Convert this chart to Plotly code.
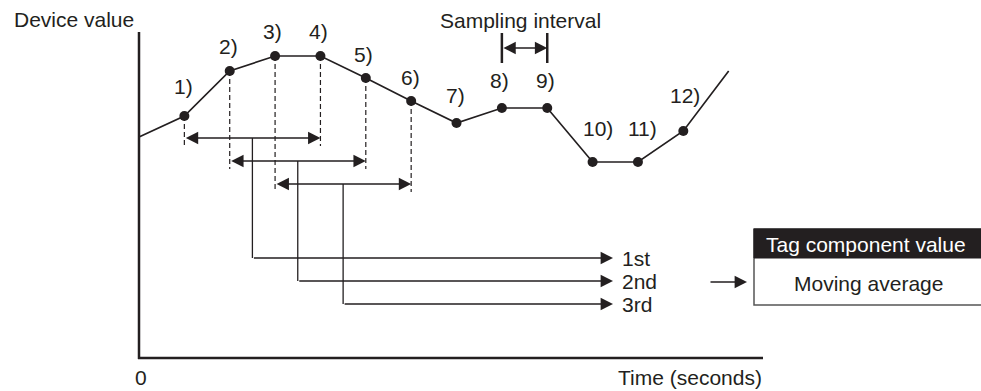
import plotly.graph_objects as go

W, H = 981, 391
INK = "#231f20"
FONT = "Liberation Sans, Arial, sans-serif"
FS = 21

# device value sampled once per sampling interval (arbitrary units)
times = [0, 1, 2, 3, 4, 5, 6, 7, 8, 9, 10, 11, 12, 13]
values = [22.1, 24.2, 28.7, 30.2, 30.2, 28.0, 25.7, 23.5, 25.0, 25.0, 19.6, 19.6, 22.7, 28.7]
sample_labels = ["1)", "2)", "3)", "4)", "5)", "6)", "7)", "8)", "9)", "10)", "11)", "12)"]

# moving average windows (sample numbers) and their results
windows = [[1, 2, 3, 4], [2, 3, 4, 5], [3, 4, 5, 6]]
result_labels = ["1st", "2nd", "3rd"]

# pixel -> data helpers for the layout decorations
X0, DX = 139, 45.36
Y0, DY = 358, 10.0


def dx(p):
    return (p - X0) / DX


def dy(p):
    return (Y0 - p) / DY


ARROW = dict(showarrow=True, text="", axref="x", ayref="y", arrowhead=2, arrowsize=1.9,
             arrowwidth=1.3, arrowcolor=INK)
BOTH = dict(arrowside="end+start", startarrowhead=2, startarrowsize=1.9)

fig = go.Figure()
ann = []
shapes = []

# axes
shapes.append(dict(type="line", x0=dx(139), x1=dx(139), y0=dy(32), y1=dy(359),
                   line=dict(color=INK, width=2.5)))
shapes.append(dict(type="line", x0=dx(138), x1=dx(763), y0=dy(358), y1=dy(358),
                   line=dict(color=INK, width=2.5)))

# window brackets, dashed guides, result lines
bracket_px = [138, 161, 184]
result_px = [258, 281, 304]
for i, win in enumerate(windows):
    lvl = dy(bracket_px[i])
    out = dy(result_px[i])
    for k in (win[0], win[-1]):
        fig.add_trace(go.Scatter(x=[times[k], times[k]], y=[values[k], dy(bracket_px[i] + 8)],
                                 mode="lines", line=dict(color=INK, width=1.2, dash="5px,3px"),
                                 hoverinfo="skip", showlegend=False))
    ann.append(dict(x=times[win[-1]], y=lvl, ax=times[win[0]], ay=lvl, **ARROW, **BOTH))
    center = sum(times[k] for k in win) / len(win)
    fig.add_trace(go.Scatter(x=[center, center], y=[lvl, out], mode="lines",
                             line=dict(color=INK, width=1.3), hoverinfo="skip", showlegend=False))
    ann.append(dict(x=dx(613), y=out, ax=center, ay=out, **ARROW))
    ann.append(dict(x=dx(620), y=out, text=result_labels[i], showarrow=False, xanchor="left",
                    font=dict(size=FS, color=INK)))

# device value line and samples
fig.add_trace(go.Scatter(x=times, y=values, mode="lines", line=dict(color=INK, width=1.7),
                         hoverinfo="skip", showlegend=False))
fig.add_trace(go.Scatter(x=times[1:13], y=values[1:13], mode="markers",
                         marker=dict(color=INK, size=10), hoverinfo="skip", showlegend=False))

label_shift = [(-1, 30), (-1, 25), (-3, 25), (-2, 25), (-2, 24), (-1, 24),
               (-1, 28), (-2, 28), (-2, 28), (5, 34), (5, 34), (2, 36)]
for n, lab in enumerate(sample_labels):
    ann.append(dict(x=times[n + 1], y=values[n + 1], text=lab, showarrow=False,
                    xshift=label_shift[n][0], yshift=label_shift[n][1],
                    font=dict(size=FS, color=INK)))

# sampling interval marker between samples 8) and 9)
for k in (8, 9):
    shapes.append(dict(type="line", x0=times[k], x1=times[k], y0=dy(33), y1=dy(63),
                       line=dict(color=INK, width=2.5)))
ann.append(dict(x=times[9], y=dy(48), ax=times[8], ay=dy(48), **ARROW, **BOTH))
ann.append(dict(x=dx(520), y=dy(20), text="Sampling interval", showarrow=False,
                font=dict(size=FS, color=INK)))

# result box
ann.append(dict(x=dx(747), y=dy(282), ax=dx(709), ay=dy(282), **ARROW))
shapes.append(dict(type="rect", x0=dx(754), x1=dx(990), y0=dy(229), y1=dy(305),
                   fillcolor="white", line=dict(color="#555555", width=1.5)))
shapes.append(dict(type="rect", x0=dx(754), x1=dx(990), y0=dy(229), y1=dy(258),
                   fillcolor=INK, line=dict(color=INK, width=1)))
ann.append(dict(x=dx(866), y=dy(244), text="Tag component value", showarrow=False,
                font=dict(size=FS, color="white")))
ann.append(dict(x=dx(868), y=dy(283), text="Moving average", showarrow=False,
                font=dict(size=FS, color=INK)))

# axis texts
ann.append(dict(x=dx(12), y=dy(19), text="Device value", showarrow=False, xanchor="left",
                font=dict(size=FS, color=INK)))
ann.append(dict(x=dx(141), y=dy(377), text="0", showarrow=False, font=dict(size=FS, color=INK)))
ann.append(dict(x=dx(764), y=dy(377), text="Time (seconds)", showarrow=False, xanchor="right",
                font=dict(size=FS, color=INK)))

fig.update_layout(
    width=W, height=H,
    margin=dict(l=0, r=0, t=0, b=0),
    paper_bgcolor="white", plot_bgcolor="white",
    font=dict(family=FONT, color=INK),
    xaxis=dict(range=[dx(0), dx(W)], visible=False, fixedrange=True),
    yaxis=dict(range=[dy(H), dy(0)], visible=False, fixedrange=True),
    shapes=shapes, annotations=ann,
)

fig.write_html("out.html", config={"displayModeBar": False},
               post_script="document.body.style.margin = '0';")
